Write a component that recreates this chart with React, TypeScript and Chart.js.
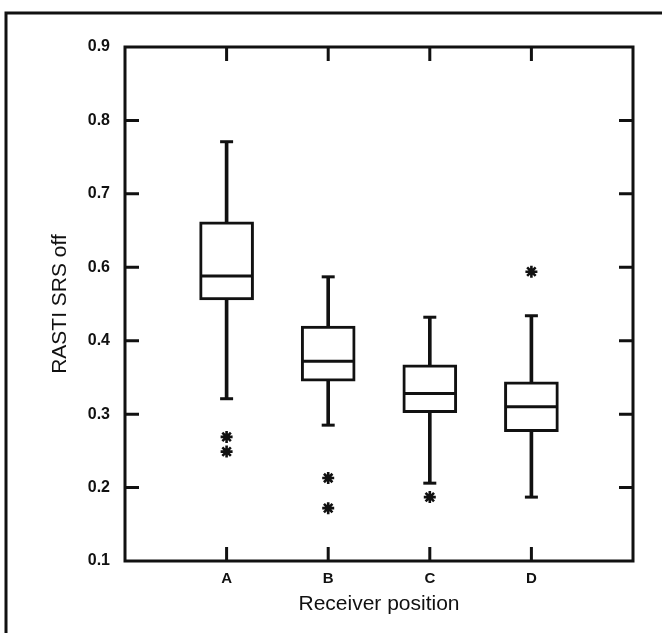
import React, { useEffect, useRef } from "react";
import { Chart, registerables } from "chart.js";

Chart.register(...registerables);

// ---- data ----
const CATEGORIES = ["A", "B", "C", "D"];
const Y_TICK_LABELS = [0.1, 0.2, 0.3, 0.4, 0.6, 0.7, 0.8, 0.9];
const WHISKER_LOW = [0.321, 0.285, 0.206, 0.187];
const Q1 = [0.511, 0.345, 0.302, 0.276];
const MEDIAN = [0.576, 0.372, 0.328, 0.31];
const Q3 = [0.662, 0.44, 0.367, 0.344];
const WHISKER_HIGH = [0.771, 0.574, 0.464, 0.468];
const OUTLIERS = [[0.269, 0.249], [0.213, 0.172], [0.187], [0.588]];

const X_TITLE = "Receiver position";
const Y_TITLE = "RASTI SRS off";

// map a labelled value onto the (evenly spaced) tick position of the axis
function toPos(v: number): number {
  const L = Y_TICK_LABELS;
  if (v <= L[0]) return 0;
  for (let i = 0; i < L.length - 1; i++) {
    if (v >= L[i] && v <= L[i + 1]) return i + (v - L[i]) / (L[i + 1] - L[i]);
  }
  return L.length - 1;
}

const FONT = "'Liberation Sans', Arial, Helvetica, sans-serif";
const INK = "#111";

const framePlugin = {
  id: "framePlugin",
  afterDraw(chart: any) {
    const ctx = chart.ctx;
    const { left, top, right, bottom } = chart.chartArea;
    const xs = chart.scales.x;
    const ys = chart.scales.y;
    const TL = 14;
    ctx.save();
    ctx.strokeStyle = INK;
    ctx.lineWidth = 3;
    ctx.lineCap = "butt";
    ctx.strokeRect(left, top, right - left, bottom - top);
    ctx.beginPath();
    for (let i = 1; i < Y_TICK_LABELS.length - 1; i++) {
      const y = ys.getPixelForValue(i);
      ctx.moveTo(left, y);
      ctx.lineTo(left + TL, y);
      ctx.moveTo(right, y);
      ctx.lineTo(right - TL, y);
    }
    CATEGORIES.forEach((_, i) => {
      const x = xs.getPixelForValue(i + 1);
      ctx.moveTo(x, top);
      ctx.lineTo(x, top + TL);
      ctx.moveTo(x, bottom);
      ctx.lineTo(x, bottom - TL);
    });
    ctx.stroke();
    // outer scanned frame
    ctx.beginPath();
    ctx.moveTo(6, chart.height);
    ctx.lineTo(6, 13);
    ctx.lineTo(chart.width, 13);
    ctx.stroke();
    ctx.restore();
  },
};

export default function App() {
  const ref = useRef<HTMLCanvasElement>(null);

  useEffect(() => {
    if (!ref.current) return;
    const boxData = CATEGORIES.map((_, i) => ({ x: i + 1, y: [toPos(Q1[i]), toPos(Q3[i])] }));
    const lowWhisker = CATEGORIES.map((_, i) => ({ x: i + 1, y: [toPos(WHISKER_LOW[i]), toPos(Q1[i])] }));
    const highWhisker = CATEGORIES.map((_, i) => ({ x: i + 1, y: [toPos(Q3[i]), toPos(WHISKER_HIGH[i])] }));
    const caps: any[] = [];
    CATEGORIES.forEach((_, i) => {
      caps.push({ x: i + 1, y: toPos(WHISKER_LOW[i]) });
      caps.push({ x: i + 1, y: toPos(WHISKER_HIGH[i]) });
    });
    const medians = CATEGORIES.map((_, i) => ({ x: i + 1, y: toPos(MEDIAN[i]) }));
    const outliers: any[] = [];
    OUTLIERS.forEach((arr, i) => arr.forEach((v) => outliers.push({ x: i + 1, y: toPos(v) })));

    const chart = new Chart(ref.current, {
      type: "bar",
      data: {
        datasets: [
          {
            type: "scatter",
            data: medians,
            pointStyle: "line",
            pointRadius: 26,
            borderWidth: 3,
            borderColor: INK,
            backgroundColor: INK,
            order: 0,
          } as any,
          {
            type: "scatter",
            data: caps,
            pointStyle: "line",
            pointRadius: 6.5,
            borderWidth: 3,
            borderColor: INK,
            backgroundColor: INK,
            order: 0,
          } as any,
          {
            type: "scatter",
            data: outliers,
            pointStyle: "star",
            pointRadius: 6,
            borderWidth: 2.6,
            borderColor: INK,
            backgroundColor: INK,
            order: 0,
          } as any,
          {
            type: "bar",
            data: boxData,
            barThickness: 54,
            backgroundColor: "#fff",
            borderColor: INK,
            borderWidth: 3,
            borderSkipped: false,
            grouped: false,
            order: 1,
          } as any,
          {
            type: "bar",
            data: lowWhisker,
            barThickness: 3,
            backgroundColor: INK,
            borderWidth: 0,
            grouped: false,
            order: 2,
          } as any,
          {
            type: "bar",
            data: highWhisker,
            barThickness: 3,
            backgroundColor: INK,
            borderWidth: 0,
            grouped: false,
            order: 2,
          } as any,
        ],
      },
      options: {
        animation: false,
        responsive: false,
        devicePixelRatio: 1,
        events: [],
        layout: { padding: { top: 47, right: 19, left: 0, bottom: 0 } },
        plugins: { legend: { display: false }, tooltip: { enabled: false } },
        scales: {
          x: {
            type: "linear",
            min: 0,
            max: 5,
            offset: false,
            grid: { display: false, drawTicks: false },
            border: { display: false },
            afterFit: (s: any) => {
              s.height = 72;
            },
            ticks: {
              stepSize: 1,
              padding: 9,
              color: INK,
              font: { family: FONT, size: 15, weight: "bold" },
              callback: (v: any) => CATEGORIES[Number(v) - 1] ?? "",
              maxRotation: 0,
            },
            title: {
              display: true,
              text: X_TITLE,
              color: INK,
              font: { family: FONT, size: 21 },
              padding: { top: 0, bottom: 16 },
            },
          },
          y: {
            type: "linear",
            min: 0,
            max: Y_TICK_LABELS.length - 1,
            grid: { display: false, drawTicks: false },
            border: { display: false },
            afterFit: (s: any) => {
              s.width = 125;
            },
            ticks: {
              stepSize: 1,
              padding: 15,
              color: INK,
              font: { family: FONT, size: 16, weight: "bold" },
              callback: (v: any) => Y_TICK_LABELS[Number(v)].toFixed(1),
            },
            title: {
              display: true,
              text: Y_TITLE,
              color: INK,
              font: { family: FONT, size: 21 },
              padding: { top: 48, bottom: 0 },
            },
          },
        },
      } as any,
      plugins: [framePlugin],
    });
    return () => chart.destroy();
  }, []);

  return (
    <div style={{ position: "fixed", left: 0, top: 0, width: 662, height: 633, background: "#fff" }}>
      <canvas ref={ref} width={662} height={633} style={{ display: "block", width: 662, height: 633 }} />
    </div>
  );
}
